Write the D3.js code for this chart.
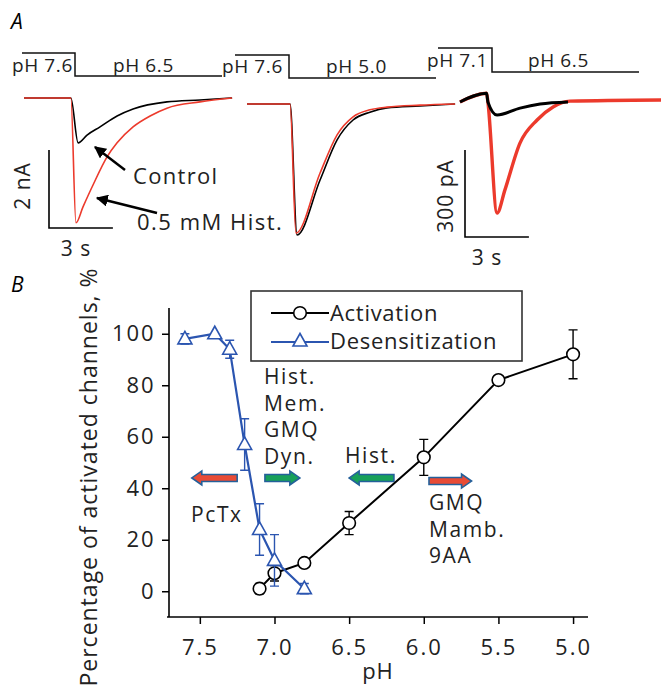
<!DOCTYPE html>
<html>
<head>
<meta charset="utf-8">
<script src="https://cdn.jsdelivr.net/npm/d3@7"></script>
<style>
body { margin: 0; background: #fff; }
svg { font-family: "Open Sans", sans-serif; }
</style>
</head>
<body>
<svg width="661" height="686"></svg>
<script>
// ---- panel B values ----
var phDesens = [7.6, 7.4, 7.3, 7.2, 7.1, 7.0, 6.8];
var desens = [98, 100, 94, 57, 24, 12, 1];
var desensErr = [2, 0, 3.5, 10, 10, 10, 2];

var phAct = [7.1, 7.0, 6.8, 6.5, 6.0, 5.5, 5.0];
var act = [1, 7, 11, 26.5, 52, 82, 92];
var actErr = [2, 3, 0, 4.5, 7, 0, 9.5];

var xTickValues = [7.5, 7.0, 6.5, 6.0, 5.5, 5.0];
var yTickValues = [0, 20, 40, 60, 80, 100];

// ---- panel A traces: time (s), current (nA, or pA in the third) ----
var tr1Time = [0, 2.2, 2.54, 2.96, 3.57, 4.37, 5.12, 6.71, 8.26, 9.77];
var tr1Control = [0, 0, -1.15, -0.95, -0.74, -0.46, -0.28, -0.10, -0.05, 0];
var tr1HistTime = [0, 2.2, 2.44, 2.77, 3.24, 3.9, 4.37, 5.12, 5.92, 6.71, 8.26, 9.77];
var tr1Hist = [0, 0, -3.2, -2.79, -2.23, -1.51, -1.15, -0.74, -0.46, -0.26, -0.10, 0];

var tr2Time = [0, 2.02, 2.35, 3.43, 4.23, 4.98, 5.77, 6.57, 8.12, 9.77];
var tr2Control = [0, 0, -3.36, -1.95, -0.92, -0.41, -0.21, -0.10, -0.05, 0];
var tr2HistTime = [0, 2.02, 2.3, 3.43, 4.23, 4.98, 5.77, 6.57, 8.12, 9.77];
var tr2Hist = [0, 0, -3.31, -1.77, -0.79, -0.33, -0.15, -0.08, -0.03, 0];

var tr3Time = [0, 1.25, 1.31, 1.74, 2.82, 3.76, 5.07];
var tr3Control = [0, 30, 0, -45, -21, -7, 0];
var tr3HistTime = [0, 1.25, 1.31, 1.74, 2.11, 2.82, 3.62, 4.37, 5.16, 9.44];
var tr3Hist = [0, 30, 0, -383, -303, -141, -62, -17, 3, 7];

var red = "#ec3a2c", blue = "#2b55b0";

var svg = d3.select("svg");

// ================= panel A =================
svg.append("text").attr("x", 11).attr("y", 29)
	.attr("font-size", 21).attr("font-style", "italic").text("A");

var protocols = [
	{x0: 22, xs: 75, x1: 222, hi: 53, lo: 76, a: "pH 7.6", ax: 12, b: "pH 6.5", bx: 113, ty: 65},
	{x0: 235, xs: 289, x1: 436, hi: 55, lo: 78, a: "pH 7.6", ax: 222, b: "pH 5.0", bx: 326, ty: 66},
	{x0: 438, xs: 492, x1: 639, hi: 48, lo: 72, a: "pH 7.1", ax: 427, b: "pH 6.5", bx: 528, ty: 60}
];

protocols.forEach(function(p){
	svg.append("path")
		.attr("d", "M"+p.x0+","+p.hi+"H"+p.xs+"V"+p.lo+"H"+p.x1)
		.attr("fill", "none").attr("stroke", "#111").attr("stroke-width", 1.5);
	[[p.a, p.ax], [p.b, p.bx]].forEach(function(t){
		svg.append("text").attr("x", t[1]).attr("y", p.ty).attr("dy", "0.35em")
			.attr("font-size", 19).attr("letter-spacing", 0.6).attr("fill", "#222").text(t[0]);
	});
});

// each panel gets its own time / current scales
var panelA = [
	{x0: 24, y0: 98, yDom: [0, -4], yPx: 156, traces: [[tr1Time, tr1Control, "#000", 1.6], [tr1HistTime, tr1Hist, red, 1.6]]},
	{x0: 247, y0: 104, yDom: [0, -4], yPx: 156, traces: [[tr2Time, tr2Control, "#000", 1.6], [tr2HistTime, tr2Hist, red, 1.6]]},
	{x0: 460, y0: 102, yDom: [0, -400], yPx: 116, traces: [[tr3HistTime, tr3Hist, red, 3.4], [tr3Time, tr3Control, "#000", 3]]}
];

panelA.forEach(function(p){
	p.x = d3.scaleLinear().domain([0, 10]).range([p.x0, p.x0 + 213]);
	p.y = d3.scaleLinear().domain(p.yDom).range([p.y0, p.y0 + p.yPx]);
	p.traces.forEach(function(tr){
		var pts = tr[0].map(function(t, i){ return [t, tr[1][i]]; });
		var line = d3.line()
			.x(function(d){ return p.x(d[0]); })
			.y(function(d){ return p.y(d[1]); })
			.curve(d3.curveMonotoneX);
		svg.append("path").datum(pts)
			.attr("d", line)
			.attr("fill", "none")
			.attr("stroke", tr[2])
			.attr("stroke-width", tr[3])
			.attr("stroke-linejoin", "round");
	});
});

// scale bars
function scaleBar(p, bx, by, amp, ampLabel, lx, ly, sx, sy) {
	var w = p.x(3) - p.x(0),
		h = p.y(amp) - p.y(0);
	svg.append("path")
		.attr("d", "M"+bx+","+(by - h)+"V"+by+"H"+(bx + w))
		.attr("fill", "none").attr("stroke", "#000").attr("stroke-width", 1.6);
	svg.append("text")
		.attr("transform", "translate("+lx+","+ly+") rotate(-90)")
		.attr("text-anchor", "middle").attr("dy", "0.35em")
		.attr("font-size", 21).attr("letter-spacing", 1).attr("fill", "#222").text(ampLabel);
	svg.append("text").attr("x", sx).attr("y", sy).attr("dy", "0.35em")
		.attr("text-anchor", "middle").attr("font-size", 21).attr("letter-spacing", 1)
		.attr("fill", "#222").text("3 s");
}
scaleBar(panelA[0], 49, 228, -2, "2 nA", 23, 186, 76, 249);
scaleBar(panelA[2], 465, 237, -300, "300 pA", 446, 196, 487, 258);

// annotation arrows
svg.append("defs").append("marker")
	.attr("id", "head").attr("viewBox", "0 0 10 10")
	.attr("refX", 9).attr("refY", 5)
	.attr("markerWidth", 5).attr("markerHeight", 5)
	.attr("orient", "auto")
	.append("path").attr("d", "M0,0L10,5L0,10Z").attr("fill", "#000");

svg.append("line").attr("x1", 125).attr("y1", 170).attr("x2", 95).attr("y2", 147)
	.attr("stroke", "#000").attr("stroke-width", 2.4).attr("marker-end", "url(#head)");
svg.append("line").attr("x1", 157).attr("y1", 213).attr("x2", 97).attr("y2", 198)
	.attr("stroke", "#000").attr("stroke-width", 2.4).attr("marker-end", "url(#head)");

svg.append("text").attr("x", 133).attr("y", 176).attr("dy", "0.35em")
	.attr("font-size", 22).attr("letter-spacing", 1.3).attr("fill", "#222").text("Control");
svg.append("text").attr("x", 137).attr("y", 222).attr("dy", "0.35em")
	.attr("font-size", 22).attr("letter-spacing", 1.5).attr("fill", "#222").text("0.5 mM Hist.");

// ================= panel B =================
var x = d3.scaleLinear().domain([7.72, 4.9]).range([167, 588]),
	y = d3.scaleLinear().domain([-10, 110]).range([617, 308]);

svg.append("text").attr("x", 11).attr("y", 292)
	.attr("font-size", 21).attr("font-style", "italic").text("B");

var gx = svg.append("g").attr("transform", "translate(0,617)");
gx.call(d3.axisBottom(x).tickValues(d3.range(5.0, 7.76, 0.25)).tickSize(5).tickFormat(""));
gx.call(d3.axisBottom(x).tickValues(xTickValues).tickSize(7).tickFormat(d3.format(".1f")));
gx.selectAll(".domain").attr("d", "M167,0H588");

var gy = svg.append("g").attr("transform", "translate(169,0)");
gy.call(d3.axisLeft(y).tickValues(d3.range(-10, 111, 10)).tickSize(4).tickFormat(""));
gy.call(d3.axisLeft(y).tickValues(yTickValues).tickSize(7));
gy.selectAll(".domain").attr("d", "M0,308V617");

svg.selectAll(".tick line").attr("stroke-width", 1.5);
svg.selectAll(".domain").attr("stroke-width", 1.6);
svg.selectAll(".tick text").attr("font-size", 22).attr("fill", "#222")
	.attr("letter-spacing", 2)
	.attr("font-family", "\"Open Sans\", sans-serif");
gx.selectAll(".tick text").attr("dy", "1.25em");
gy.selectAll(".tick text").attr("dx", "-0.15em");

svg.append("text").attr("x", 378).attr("y", 671).attr("dy", "0.35em")
	.attr("text-anchor", "middle").attr("font-size", 22).attr("letter-spacing", 1)
	.attr("fill", "#222").text("pH");
svg.append("text")
	.attr("transform", "translate(89,477) rotate(-90)")
	.attr("text-anchor", "middle").attr("dy", "0.35em")
	.attr("font-size", 23).attr("letter-spacing", 1).attr("fill", "#222")
	.text("Percentage of activated channels, %");

// treatment arrows (pH span, level in %)
var shifts = [
	{from: 7.25, to: 7.554, lvl: 44, fill: "#e84b35"},
	{from: 7.064, to: 6.83, lvl: 44, fill: "#17a05a"},
	{from: 6.20, to: 6.50, lvl: 44, fill: "#17a05a"},
	{from: 5.965, to: 5.68, lvl: 42.8, fill: "#e84b35"}
];
shifts.forEach(function(s){
	var x1 = x(s.from), x2 = x(s.to), yy = y(s.lvl),
		dir = x2 > x1 ? 1 : -1, hb = x2 - dir * 10;
	var d = "M"+x1+","+(yy-3.5)+"L"+hb+","+(yy-3.5)+"L"+hb+","+(yy-7)+"L"+x2+","+yy+
		"L"+hb+","+(yy+7)+"L"+hb+","+(yy+3.5)+"L"+x1+","+(yy+3.5)+"Z";
	svg.append("path").attr("d", d).attr("fill", s.fill)
		.attr("stroke", "#24609a").attr("stroke-width", 1.6).attr("stroke-linejoin", "miter");
});

function label(lines, px, py) {
	lines.forEach(function(t, i){
		svg.append("text").attr("x", px).attr("y", py + i * 26.5).attr("dy", "0.35em")
			.attr("font-size", 21).attr("letter-spacing", 1.6).attr("fill", "#222").text(t);
	});
}
label(["Hist.", "Mem.", "GMQ", "Dyn."], 264, 377);
label(["PcTx"], 191, 515);
label(["Hist."], 345, 456);
label(["GMQ", "Mamb.", "9AA"], 429, 503);

// error bars
function errBars(px, py, pe, col) {
	px.forEach(function(v, i){
		if (!pe[i]) return;
		var cx = x(v), top = y(py[i] + pe[i]), bot = y(py[i] - pe[i]);
		svg.append("path")
			.attr("d", "M"+cx+","+top+"V"+bot+"M"+(cx-4.5)+","+top+"H"+(cx+4.5)+"M"+(cx-4.5)+","+bot+"H"+(cx+4.5))
			.attr("fill", "none").attr("stroke", col).attr("stroke-width", 1.4);
	});
}

var ptLine = d3.line().x(function(d){ return x(d[0]); }).y(function(d){ return y(d[1]); });
var actPts = phAct.map(function(v, i){ return [v, act[i]]; }),
	desPts = phDesens.map(function(v, i){ return [v, desens[i]]; });

errBars(phAct, act, actErr, "#000");
svg.append("path").datum(actPts).attr("d", ptLine)
	.attr("fill", "none").attr("stroke", "#000").attr("stroke-width", 2);
svg.selectAll(".act").data(actPts).enter().append("circle")
	.attr("class", "act")
	.attr("cx", function(d){ return x(d[0]); })
	.attr("cy", function(d){ return y(d[1]); })
	.attr("r", 6.3).attr("fill", "#fff").attr("stroke", "#000").attr("stroke-width", 1.6);

var tri = "M0,-7.5L7,5L-7,5Z";
errBars(phDesens, desens, desensErr, blue);
svg.append("path").datum(desPts).attr("d", ptLine)
	.attr("fill", "none").attr("stroke", blue).attr("stroke-width", 2.2);
svg.selectAll(".des").data(desPts).enter().append("path")
	.attr("class", "des")
	.attr("transform", function(d){ return "translate("+x(d[0])+","+y(d[1])+")"; })
	.attr("d", tri).attr("fill", "#fff").attr("stroke", blue).attr("stroke-width", 1.6);

// legend
var lg = svg.append("g");
lg.append("rect").attr("x", 251).attr("y", 291).attr("width", 271).attr("height", 70)
	.attr("fill", "#fff").attr("stroke", "#333").attr("stroke-width", 1.6);
lg.append("line").attr("x1", 271).attr("x2", 329).attr("y1", 313).attr("y2", 313)
	.attr("stroke", "#000").attr("stroke-width", 2);
lg.append("circle").attr("cx", 300).attr("cy", 313).attr("r", 6.3)
	.attr("fill", "#fff").attr("stroke", "#000").attr("stroke-width", 1.6);
lg.append("line").attr("x1", 271).attr("x2", 329).attr("y1", 342).attr("y2", 342)
	.attr("stroke", blue).attr("stroke-width", 2.2);
lg.append("path").attr("transform", "translate(300,341)").attr("d", tri)
	.attr("fill", "#fff").attr("stroke", blue).attr("stroke-width", 1.6);
lg.append("text").attr("x", 330).attr("y", 313).attr("dy", "0.35em")
	.attr("font-size", 22).attr("letter-spacing", 0.7).attr("fill", "#222").text("Activation");
lg.append("text").attr("x", 330).attr("y", 341).attr("dy", "0.35em")
	.attr("font-size", 22).attr("letter-spacing", 0.7).attr("fill", "#222").text("Desensitization");
</script>
</body>
</html>
